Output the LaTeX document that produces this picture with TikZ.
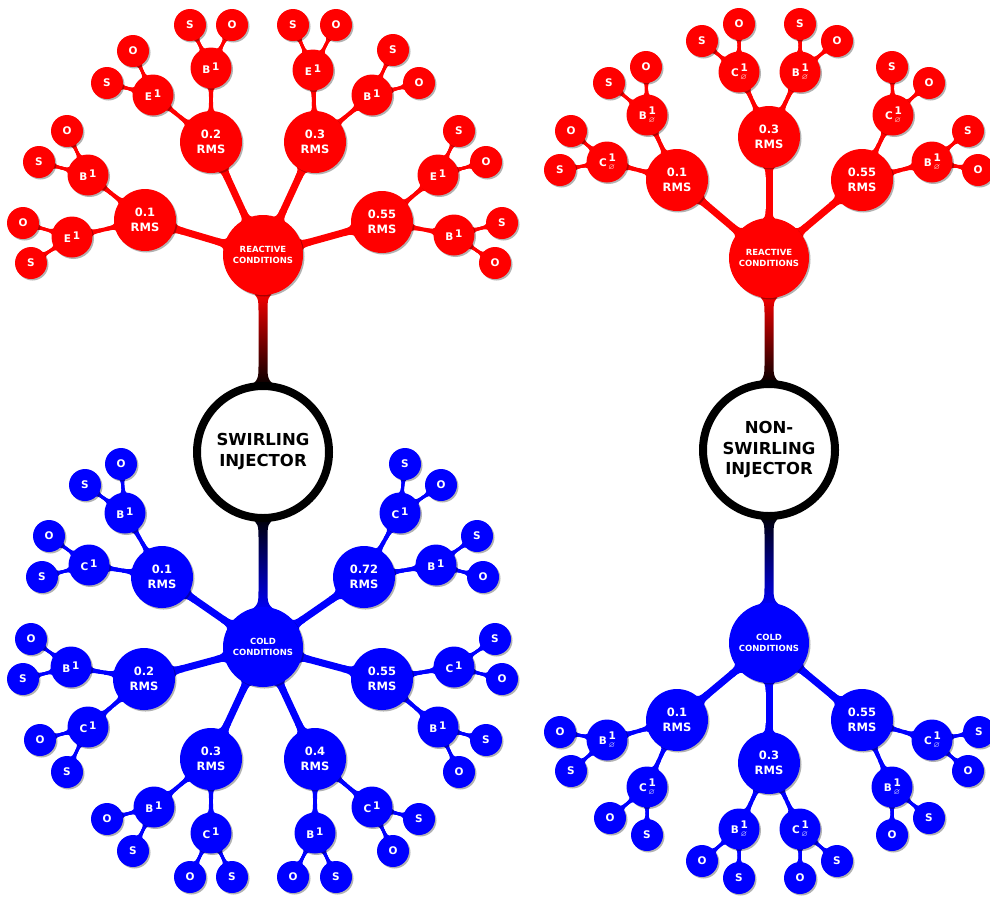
\documentclass[tikz,border=0pt]{standalone}
\usepackage{fontspec}
\usepackage{amssymb}
\setmainfont{DejaVu Sans}
\usetikzlibrary{shadows,backgrounds,calc}
\newcommand\lsup[1]{#1\,\raisebox{3.5pt}{1}}
\newcommand\lnul[1]{#1\,\makebox[0pt][l]{\raisebox{5.2pt}{1}}\raisebox{-3.4pt}{\makebox[6.4pt]{\fontsize{7.5}{7.5}\selectfont$\varnothing$}}}
\newcommand\flare[4]{% node, radius, other node, width
 \pgfmathsetlengthmacro\fA{#2-4}%
 \pgfmathsetlengthmacro\fC{#2+1}%
 \pgfmathsetlengthmacro\fE{#2+9}%
 \pgfmathsetlengthmacro\hS{#4+3}%
 \pgfmathsetlengthmacro\hW{#4/2}%
 \coordinate (fa) at ($(#1)!\fA!(#3)$);
 \coordinate (fc) at ($(#1)!\fC!(#3)$);
 \coordinate (fe) at ($(#1)!\fE!(#3)$);
 \fill[fill=\clr] ($(fa)!\hS!90:(#3)$) .. controls ($(fc)!\hW!90:(#3)$) .. ($(fe)!\hW!90:(#3)$)
   -- ($(fe)!\hW!-90:(#3)$) .. controls ($(fc)!\hW!-90:(#3)$) .. ($(fa)!\hS!-90:(#3)$) -- cycle;}
\newcommand\edge[5]{% A, rA, B, rB, width
 \begin{pgfonlayer}{background}
 \draw[line width=#5pt,draw=\clr] (#1) -- (#3);
 \flare{#1}{#2}{#3}{#5}
 \flare{#3}{#4}{#1}{#5}
 \end{pgfonlayer}}
\newcommand\twig[6]{%
 \node[lv2] (#2) at (#3) {#4};
 \node[lv3] (#2s) at (#5) {S};
 \node[lv3] (#2o) at (#6) {O};
 \edge{#1}{31}{#2}{20.5}{4}
 \edge{#2}{20.5}{#2s}{16}{3}
 \edge{#2}{20.5}{#2o}{16}{3}}
\newcommand\arm[4]{%
 \node[lv1] (#2) at (#3) {#4\\RMS};
 \edge{#1}{40}{#2}{31}{7}}
\newcommand\tube[4]{% upper node, lower node, top colour, bottom colour
 \begin{pgfonlayer}{background}
 \shade[top color=#3,bottom color=#4]
  ($(#1.south)+(-14,-6)$) .. controls ($(#1.south)+(-4.5,2)$) .. ($(#1.south)+(-4.5,18)$)
  -- ($(#2.north)+(-4.5,-18)$) .. controls ($(#2.north)+(-4.5,-2)$) .. ($(#2.north)+(-16,6)$)
  -- ($(#2.north)+(16,6)$) .. controls ($(#2.north)+(4.5,-2)$) .. ($(#2.north)+(4.5,-18)$)
  -- ($(#1.south)+(4.5,18)$) .. controls ($(#1.south)+(4.5,2)$) .. ($(#1.south)+(14,-6)$) -- cycle;
 \end{pgfonlayer}}
\begin{document}
\begin{tikzpicture}[x=1pt,y=-1pt,
 shad/.style={drop shadow={shadow xshift=1.5pt,shadow yshift=-1.5pt,opacity=0.3,fill=black}},
 base/.style={circle,inner sep=0pt,text=white,align=center,fill=\clr,shad},
 lv0/.style={base,minimum size=80pt,font=\fontsize{8.5}{11}\selectfont\bfseries},
 lv1/.style={base,minimum size=62pt,font=\fontsize{11.5}{14.5}\selectfont\bfseries},
 lv2/.style={base,minimum size=41pt,font=\fontsize{10.5}{10.5}\selectfont\bfseries},
 lv3/.style={base,minimum size=32pt,font=\fontsize{10.5}{10.5}\selectfont\bfseries},
 inj/.style={circle,inner sep=0pt,draw=black,line width=8pt,fill=white,minimum size=132pt,
   align=center,font=\fontsize{16.5}{21}\selectfont\bfseries,shad}]
\useasboundingbox (0,0) rectangle (990,898);
% ---------------- left: swirling, reactive
\def\clr{red}
\node[lv0] (Lr) at (263,255) {REACTIVE\\CONDITIONS};
\arm{Lr}{Lr1}{145,220}{0.1}
\arm{Lr}{Lr2}{211,142}{0.2}
\arm{Lr}{Lr3}{315,142}{0.3}
\arm{Lr}{Lr4}{382,222}{0.55}
\twig{Lr1}{Lr1a}{72,237}{\lsup{E}}{31,263}{23,223}
\twig{Lr1}{Lr1b}{88,175}{\lsup{B}}{39,162}{67,131}
\twig{Lr2}{Lr2a}{153,95}{\lsup{E}}{107,83}{133,51}
\twig{Lr2}{Lr2b}{211,68}{\lsup{B}}{190,25}{232,25}
\twig{Lr3}{Lr3a}{313,70}{\lsup{E}}{293,25}{336,25}
\twig{Lr3}{Lr3b}{372,95}{\lsup{B}}{393,50}{419,83}
\twig{Lr4}{Lr4a}{438,175}{\lsup{E}}{459,131}{486,162}
\twig{Lr4}{Lr4b}{454,235}{\lsup{B}}{502,223}{495,263}
% ---------------- left injector
\node[inj] (Linj) at (263,452) {SWIRLING\\INJECTOR};
% ---------------- left: cold
\def\clr{blue}
\node[lv0] (Lc) at (263,647) {COLD\\CONDITIONS};
\arm{Lc}{Lc1}{162,577}{0.1}
\arm{Lc}{Lc2}{144,679}{0.2}
\arm{Lc}{Lc3}{211,759}{0.3}
\arm{Lc}{Lc4}{315,759}{0.4}
\arm{Lc}{Lc5}{382,679}{0.55}
\arm{Lc}{Lc6}{364,577}{0.72}
\twig{Lc1}{Lc1a}{125,513}{\lsup{B}}{85,485}{121,464}
\twig{Lc1}{Lc1b}{89,565}{\lsup{C}}{42,577}{49,536}
\twig{Lc2}{Lc2a}{71,667}{\lsup{B}}{23,679}{31,639}
\twig{Lc2}{Lc2b}{88,727}{\lsup{C}}{67,772}{40,740}
\twig{Lc3}{Lc3a}{154,807}{\lsup{B}}{133,851}{107,819}
\twig{Lc3}{Lc3b}{211,833}{\lsup{C}}{232,877}{190,877}
\twig{Lc4}{Lc4a}{315,833}{\lsup{B}}{336,877}{293,877}
\twig{Lc4}{Lc4b}{372,807}{\lsup{C}}{419,819}{393,851}
\twig{Lc5}{Lc5a}{454,667}{\lsup{C}}{495,639}{502,679}
\twig{Lc5}{Lc5b}{438,727}{\lsup{B}}{486,740}{459,772}
\twig{Lc6}{Lc6a}{400,513}{\lsup{C}}{405,464}{441,485}
\twig{Lc6}{Lc6b}{436,565}{\lsup{B}}{477,536}{483,577}
\tube{Lr}{Linj}{red}{black}
\tube{Linj}{Lc}{black}{blue}
% ---------------- right: non-swirling, reactive
\def\clr{red}
\node[lv0] (Rr) at (769,258) {REACTIVE\\CONDITIONS};
\arm{Rr}{Rr1}{677,180}{0.1}
\arm{Rr}{Rr2}{769,137}{0.3}
\arm{Rr}{Rr3}{862,180}{0.55}
\twig{Rr1}{Rr1a}{607,162}{\lnul{C}}{560,170}{571,131}
\twig{Rr1}{Rr1b}{647,115}{\lnul{B}}{609,83}{646,67}
\twig{Rr2}{Rr2a}{739,72}{\lnul{C}}{702,41}{739,24}
\twig{Rr2}{Rr2b}{800,72}{\lnul{B}}{800,24}{837,41}
\twig{Rr3}{Rr3a}{893,115}{\lnul{C}}{892,67}{929,83}
\twig{Rr3}{Rr3b}{932,162}{\lnul{B}}{968,131}{978,170}
% ---------------- right injector
\node[inj,font=\fontsize{16.5}{20.5}\selectfont\bfseries] (Rinj) at (769,450) {NON-\\SWIRLING\\INJECTOR};
% ---------------- right: cold
\def\clr{blue}
\node[lv0] (Rc) at (769,643) {COLD\\CONDITIONS};
\arm{Rc}{Rc1}{677,720}{0.1}
\arm{Rc}{Rc2}{769,763}{0.3}
\arm{Rc}{Rc3}{862,720}{0.55}
\twig{Rc1}{Rc1a}{607,740}{\lnul{B}}{571,771}{560,732}
\twig{Rc1}{Rc1b}{647,787}{\lnul{C}}{647,835}{610,818}
\twig{Rc2}{Rc2a}{739,829}{\lnul{B}}{739,878}{702,861}
\twig{Rc2}{Rc2b}{800,829}{\lnul{C}}{837,861}{800,878}
\twig{Rc3}{Rc3a}{932,740}{\lnul{C}}{979,732}{968,771}
\twig{Rc3}{Rc3b}{892,787}{\lnul{B}}{929,818}{892,835}
\tube{Rr}{Rinj}{red}{black}
\tube{Rinj}{Rc}{black}{blue}
\end{tikzpicture}
\end{document}
